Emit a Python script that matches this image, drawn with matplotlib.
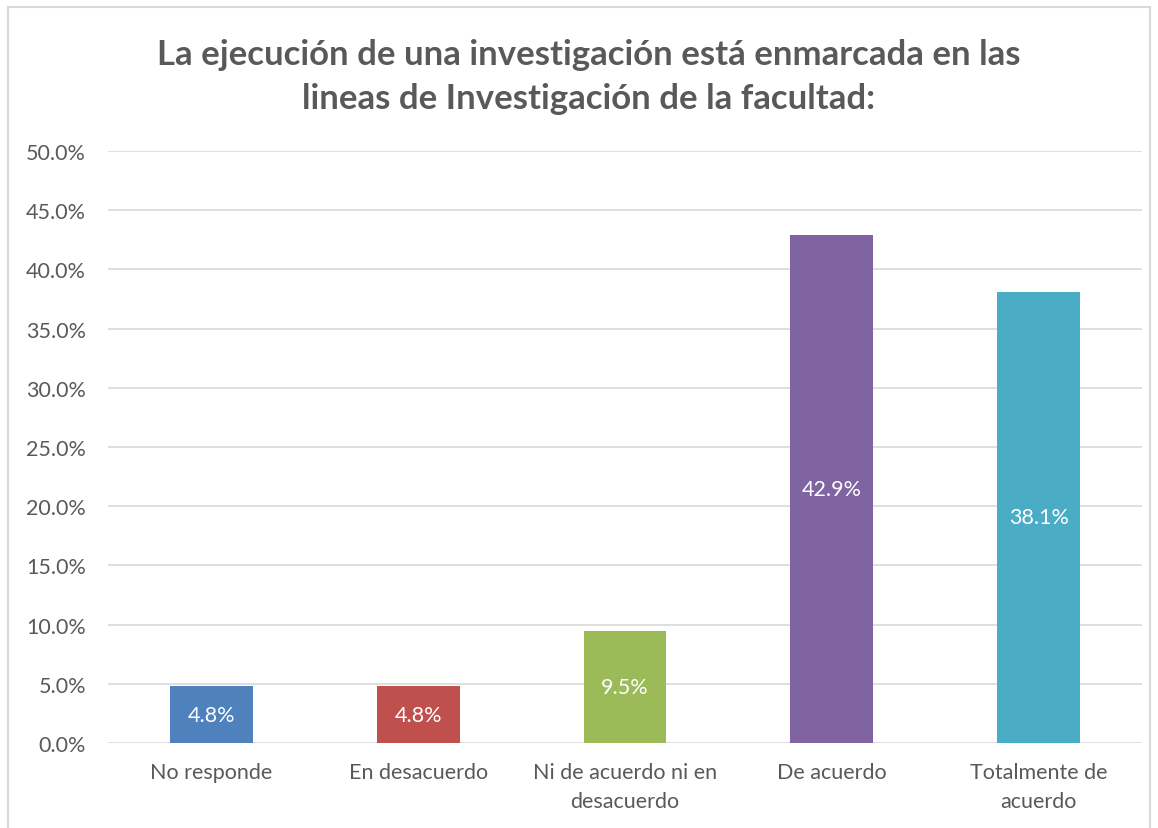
import matplotlib.pyplot as plt
from matplotlib.lines import Line2D
from matplotlib.ticker import FuncFormatter

categories = ['No responde', 'En desacuerdo', 'Ni de acuerdo ni en\ndesacuerdo',
              'De acuerdo', 'Totalmente de\nacuerdo']
values = [4.8, 4.8, 9.5, 42.9, 38.1]
colors = ['#4F81BD', '#C0504D', '#9BBB59', '#8064A2', '#4BACC6']
title = 'La ejecución de una investigación está enmarcada en las\nlineas de Investigación de la facultad:'

plt.rcParams['font.family'] = ['Lato', 'DejaVu Sans']
gray = '#595959'

fig = plt.figure(figsize=(11.58, 8.29), dpi=100)
ax = fig.add_axes([0.0933, 0.1025, 0.8929, 0.7141])

x = range(len(categories))
bars = ax.bar(x, values, width=0.4, color=colors, zorder=3)
for b, v in zip(bars, values):
    ax.text(b.get_x() + b.get_width() / 2, v / 2, f'{v:.1f}%', ha='center', va='center',
            color='white', fontsize=15.5, zorder=4)

ax.set_ylim(0, 50)
ax.set_xlim(-0.5, len(categories) - 0.5)
ax.set_yticks(range(0, 51, 5))
ax.yaxis.set_major_formatter(FuncFormatter(lambda v, p: f'{v:.1f}%'))
ax.set_xticks(list(x))
ax.set_xticklabels(categories, linespacing=1.55)
ax.grid(axis='y', color='#D9D9D9', linewidth=1.2, zorder=0)
ax.tick_params(length=0, colors=gray, labelsize=15.5)
ax.tick_params(axis='y', pad=16)
ax.tick_params(axis='x', pad=14)
for s in ax.spines.values():
    s.set_visible(False)

fig.text(0.508, 0.907, title, ha='center', va='center', fontsize=25, fontweight='bold',
         color=gray, linespacing=1.45)

# chart border
bc = '#D9D9D9'
fig.add_artist(Line2D([8 / 1158, 8 / 1158], [0, 1 - 8 / 829], color=bc, lw=1.5, transform=fig.transFigure))
fig.add_artist(Line2D([8 / 1158, 1150 / 1158], [1 - 8 / 829, 1 - 8 / 829], color=bc, lw=1.5, transform=fig.transFigure))
fig.add_artist(Line2D([1150 / 1158, 1150 / 1158], [0, 1 - 8 / 829], color=bc, lw=1.5, transform=fig.transFigure))

plt.savefig('out.png', dpi=100)
